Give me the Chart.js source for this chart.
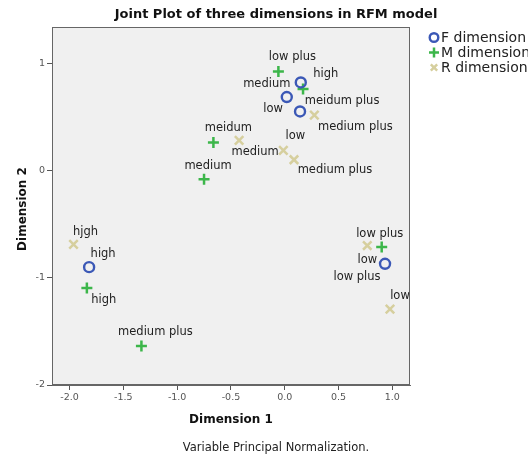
<!DOCTYPE html>
<html>
<head>
<meta charset="utf-8">
<script src="https://cdn.jsdelivr.net/npm/chart.js@4/dist/chart.umd.min.js"></script>
<style>
  html, body { margin: 0; padding: 0; background: #ffffff; }
  #wrap { width: 528px; height: 456px; position: relative; }
</style>
</head>
<body>
<div id="wrap"><canvas id="c" width="528" height="456"></canvas></div>
<script>
// Category points of the three RFM variables (object scores, dimensions 1 and 2)
const fDim1 = [0.149, 0.019, 0.142, -1.818, 0.932];
const fDim2 = [0.826, 0.690, 0.555, -0.899, -0.868];
const fNames = ["high", "medium", "low", "high", "low plus"];

const mDim1 = [-0.059, 0.170, -0.663, -0.750, -1.839, -1.332, 0.901];
const mDim2 = [0.929, 0.764, 0.265, -0.077, -1.095, -1.635, -0.712];
const mNames = ["low plus", "meidum plus", "meidum", "medium", "high", "medium plus", "low plus"];

const rDim1 = [0.275, -0.424, -0.013, 0.086, -1.963, 0.767, 0.978];
const rDim2 = [0.521, 0.284, 0.191, 0.104, -0.686, -0.697, -1.292];
const rNames = ["medium plus", "medium", "low", "medium plus", "hjgh", "low", "low"];

const seriesNames = ["F dimension", "M dimension", "R dimension"];
const xTickValues = [-2.0, -1.5, -1.0, -0.5, 0.0, 0.5, 1.0];
const yTickValues = [-2, -1, 0, 1];

// Where each category name sits relative to its marker (pixels)
const fNameShift = [[25, -8], [-20, -13], [-27, -2], [14, -13], [-28, 13]];
const mNameShift = [[14, -14], [39, 12], [15, -14], [4, -13], [17, 12], [14, -14], [-2, -13]];
const rNameShift = [[41, 12], [16, 12], [12, -14], [41, 10], [12, -12], [0, 15], [10, -13]];

const COL_F = "#3b58b6";
const COL_M = "#3cb64a";
const COL_R = "#d6cf9e";
const FONT = "'DejaVu Sans', sans-serif";

function pts(xs, ys) { return xs.map((x, i) => ({ x: x, y: ys[i] })); }

const frame = {
  id: "frame",
  beforeDatasetsDraw(chart) {
    const a = chart.chartArea, ctx = chart.ctx;
    ctx.save();
    ctx.fillStyle = "#f0f0f0";
    ctx.fillRect(a.left, a.top, a.right - a.left, a.bottom - a.top);
    ctx.restore();
  },
  afterDatasetsDraw(chart) {
    const a = chart.chartArea, ctx = chart.ctx;
    ctx.save();
    // category names next to their markers
    ctx.font = "11.5px " + FONT;
    ctx.fillStyle = "#222222";
    ctx.textAlign = "center";
    ctx.textBaseline = "middle";
    chart.data.datasets.forEach((ds, i) => {
      const meta = chart.getDatasetMeta(i);
      meta.data.forEach((el, j) => {
        const s = ds.nameShift[j];
        ctx.fillText(ds.names[j], el.x + s[0], el.y + s[1]);
      });
    });
    // frame around plot area
    ctx.strokeStyle = "#666666";
    ctx.lineWidth = 1;
    ctx.strokeRect(a.left + 0.5, a.top + 0.5, a.right - a.left - 1, a.bottom - a.top - 1);

    // title
    ctx.fillStyle = "#111111";
    ctx.font = "bold 13px " + FONT;
    ctx.fillText("Joint Plot of three dimensions in RFM model", 276, 15);

    // axis titles
    const cx = (a.left + a.right) / 2;
    ctx.font = "bold 12px " + FONT;
    ctx.fillText("Dimension 1", cx, 420);
    ctx.save();
    ctx.translate(23, (a.top + a.bottom) / 2 + 3);
    ctx.rotate(-Math.PI / 2);
    ctx.fillText("Dimension 2", 0, 0);
    ctx.restore();

    // footnote
    ctx.font = "11.5px " + FONT;
    ctx.fillStyle = "#222222";
    ctx.fillText("Variable Principal Normalization.", 276, 448);

    // legend
    ctx.textAlign = "left";
    ctx.font = "14px " + FONT;
    const legendSize = [4.3, 5, 4.5];
    chart.data.datasets.forEach((ds, i) => {
      const ly = 37.5 + i * 15, lx = 434;
      ctx.strokeStyle = ds.borderColor;
      ctx.fillStyle = "rgba(0,0,0,0)";
      ctx.lineWidth = ds.borderWidth;
      Chart.helpers.drawPoint(ctx, {
        pointStyle: ds.pointStyle, radius: legendSize[i], borderWidth: ds.borderWidth
      }, lx, ly);
      ctx.fillStyle = "#222222";
      ctx.fillText(ds.label, lx + 7, ly + 0.5);
    });
    ctx.restore();
  }
};

const chart = new Chart(document.getElementById("c"), {
  type: "scatter",
  data: {
    datasets: [
      { label: seriesNames[0], data: pts(fDim1, fDim2), names: fNames, nameShift: fNameShift,
        pointStyle: "circle", pointRadius: 5, borderWidth: 2.4,
        borderColor: COL_F, backgroundColor: "rgba(0,0,0,0)" },
      { label: seriesNames[1], data: pts(mDim1, mDim2), names: mNames, nameShift: mNameShift,
        pointStyle: "cross", pointRadius: 5.5, borderWidth: 2.5,
        borderColor: COL_M, backgroundColor: COL_M },
      { label: seriesNames[2], data: pts(rDim1, rDim2), names: rNames, nameShift: rNameShift,
        pointStyle: "crossRot", pointRadius: 6, borderWidth: 2.5,
        borderColor: COL_R, backgroundColor: COL_R }
    ]
  },
  options: {
    responsive: false,
    animation: false,
    events: [],
    layout: { padding: { left: 0, right: 118, top: 27, bottom: 41 } },
    plugins: { legend: { display: false }, title: { display: false }, tooltip: { enabled: false } },
    scales: {
      x: {
        type: "linear", min: -2.163, max: 1.164,
        afterBuildTicks(s) { s.ticks = xTickValues.map(v => ({ value: v })); },
        afterFit(s) { s.height = 30; },
        ticks: { callback: v => Number(v).toFixed(1), color: "#555555", padding: 2,
                 font: { family: FONT, size: 9.5 }, maxRotation: 0 },
        grid: { drawOnChartArea: false, drawTicks: true, tickLength: 5, color: "#555555" },
        border: { display: true, color: "#666666" }
      },
      y: {
        type: "linear", min: -2, max: 1.344,
        afterBuildTicks(s) { s.ticks = yTickValues.map(v => ({ value: v })); },
        afterFit(s) { s.width = 52; },
        ticks: { callback: v => String(v), color: "#555555", padding: 2,
                 font: { family: FONT, size: 9.5 } },
        grid: { drawOnChartArea: false, drawTicks: true, tickLength: 5, color: "#555555" },
        border: { display: true, color: "#666666" }
      }
    }
  },
  plugins: [frame]
});
</script>
</body>
</html>
